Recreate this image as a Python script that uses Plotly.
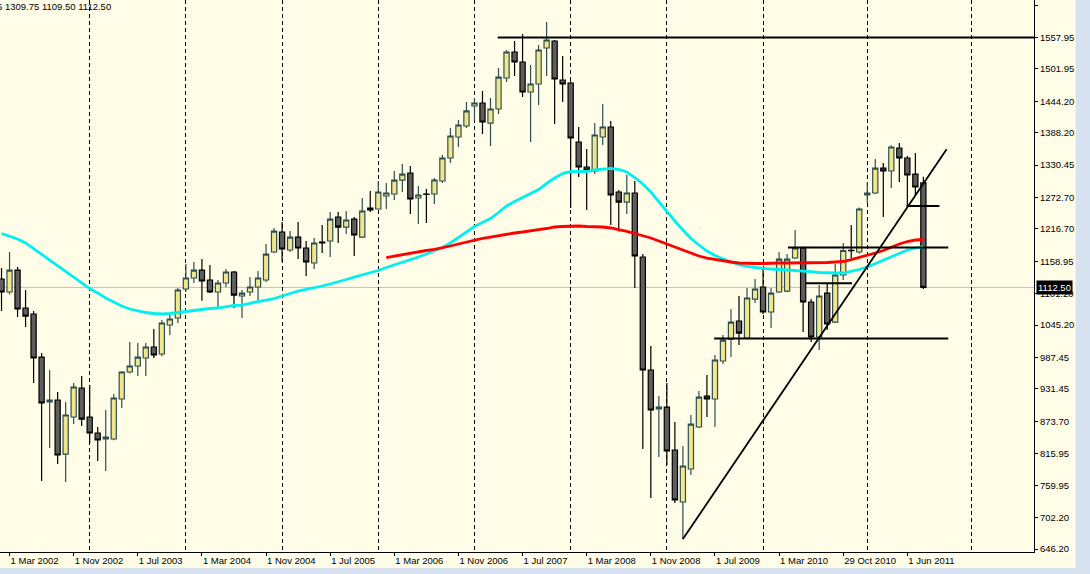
import plotly.graph_objects as go

# ---------------- data (monthly bars, index 0 = Feb 2002) ----------------
opens = [1127.5, 1104.3, 1143.5, 1075.8, 1065.1, 988.4, 908.3, 911.8, 815.5, 881.5,
         933.2, 881.5, 853.0, 842.3, 842.3, 913.6, 961.7, 972.4, 986.7, 1006.3,
         993.8, 1045.5, 1058.0, 1109.7, 1129.3, 1143.5, 1125.7, 1104.3, 1120.4, 1140.0,
         1097.2, 1104.3, 1113.2, 1125.7, 1175.6, 1211.3, 1179.2, 1202.3, 1182.8, 1156.0,
         1193.4, 1195.2, 1238.0, 1220.1, 1234.4, 1202.3, 1254.0, 1252.3, 1275.4, 1279.0,
         1303.9, 1316.4, 1271.9, 1279.0, 1279.0, 1302.2, 1343.2, 1380.6, 1400.2, 1435.9,
         1441.2, 1405.5, 1430.5, 1485.8, 1532.1, 1514.3, 1460.8, 1475.1, 1539.2, 1551.7,
         1482.2, 1476.9, 1371.7, 1327.1, 1320.0, 1380.6, 1398.4, 1282.6, 1264.7, 1280.8,
         1166.7, 965.3, 895.8, 899.3, 822.7, 730.0, 788.8, 863.7, 918.9, 913.6,
         981.3, 1020.5, 1052.6, 1022.3, 1091.8, 1113.2, 1068.7, 1104.3, 1106.0, 1164.9,
         1182.8, 1086.5, 1024.1, 1102.5, 1050.8, 1134.6, 1178.6, 1175.6, 1277.2, 1280.8,
         1325.3, 1320.0, 1361.0, 1343.2, 1314.6, 1298.75]
highs = [1147.1, 1175.6, 1148.9, 1107.9, 1070.4, 995.6, 965.3, 926.1, 908.3, 942.1,
         954.6, 938.5, 863.7, 894.0, 922.5, 963.0, 1015.2, 1013.4, 1013.4, 1038.4,
         1054.4, 1063.3, 1111.4, 1154.2, 1157.8, 1163.1, 1152.4, 1125.7, 1145.3, 1141.7,
         1107.9, 1131.1, 1141.7, 1189.9, 1218.4, 1229.1, 1213.0, 1229.1, 1195.2, 1200.6,
         1223.7, 1246.9, 1246.9, 1248.7, 1238.0, 1271.9, 1284.3, 1302.2, 1298.6, 1320.0,
         1332.5, 1328.9, 1293.3, 1287.9, 1307.5, 1348.5, 1396.6, 1410.9, 1443.0, 1450.1,
         1462.6, 1450.1, 1503.6, 1535.7, 1551.7, 1564.2, 1509.0, 1544.6, 1585.6, 1553.5,
         1525.0, 1480.0, 1398.4, 1359.2, 1405.5, 1439.4, 1409.1, 1286.1, 1312.9, 1302.2,
         1172.0, 1008.1, 918.9, 942.1, 872.6, 829.8, 885.1, 927.9, 956.4, 992.0,
         1027.7, 1074.0, 1097.2, 1111.4, 1127.5, 1147.1, 1111.4, 1175.6, 1172.0, 1214.8,
         1185.0, 1092.0, 1116.7, 1120.4, 1154.2, 1191.7, 1223.7, 1255.0, 1300.4, 1341.4,
         1334.3, 1366.0, 1370.0, 1346.7, 1352.1, 1309.75]
lows = [1070.4, 1100.0, 1059.7, 1041.9, 942.1, 767.4, 826.2, 797.7, 765.6, 869.0,
        865.5, 835.2, 803.1, 785.3, 840.0, 897.5, 959.0, 954.6, 954.6, 986.7,
        990.0, 1027.7, 1049.1, 1104.3, 1120.4, 1088.9, 1102.5, 1074.0, 1113.2, 1075.8,
        1058.0, 1097.2, 1086.5, 1122.0, 1173.8, 1157.8, 1175.6, 1163.1, 1132.8, 1145.3,
        1173.8, 1166.7, 1191.7, 1207.7, 1168.5, 1200.6, 1247.0, 1252.3, 1252.3, 1268.3,
        1282.6, 1243.3, 1225.5, 1227.3, 1261.2, 1298.6, 1334.3, 1362.8, 1396.6, 1409.1,
        1385.9, 1364.6, 1421.6, 1478.6, 1489.3, 1451.9, 1371.7, 1437.7, 1489.3, 1403.8,
        1443.0, 1254.0, 1309.3, 1250.5, 1314.6, 1366.3, 1223.7, 1212.0, 1243.3, 1111.4,
        824.4, 737.1, 810.2, 795.9, 728.2, 664.0, 778.1, 861.9, 881.5, 863.7,
        976.0, 988.4, 1009.8, 1020.0, 1084.7, 1065.0, 1040.1, 1102.5, 1104.0, 1163.0,
        1033.0, 1015.0, 1000.9, 1036.6, 1049.1, 1125.7, 1164.9, 1173.0, 1263.0, 1279.0,
        1238.0, 1289.7, 1300.4, 1257.6, 1275.4, 1109.50]
closes = [1104.3, 1143.5, 1074.0, 1061.5, 986.7, 906.5, 911.8, 813.8, 885.1, 935.0,
          877.9, 853.0, 840.5, 845.8, 915.4, 961.7, 972.4, 988.4, 1006.3, 992.0,
          1049.1, 1056.2, 1107.9, 1129.3, 1143.5, 1123.9, 1104.3, 1120.4, 1140.0, 1098.9,
          1102.5, 1113.2, 1129.3, 1172.0, 1213.0, 1181.0, 1202.3, 1182.8, 1157.8, 1191.7,
          1191.7, 1234.4, 1220.1, 1232.7, 1205.9, 1248.7, 1250.5, 1282.6, 1280.8, 1303.9,
          1314.6, 1270.1, 1277.2, 1278.1, 1304.0, 1343.2, 1382.4, 1402.0, 1427.0, 1441.2,
          1407.3, 1430.5, 1487.5, 1532.1, 1514.3, 1460.8, 1475.1, 1535.7, 1553.5, 1484.0,
          1475.1, 1378.8, 1327.1, 1321.8, 1384.2, 1398.4, 1277.2, 1264.7, 1280.8, 1168.5,
          965.3, 894.0, 899.3, 820.9, 733.6, 794.2, 869.0, 917.1, 913.6, 983.1,
          1018.7, 1050.8, 1031.2, 1093.6, 1109.7, 1068.7, 1102.5, 1163.1, 1163.1, 1182.8,
          1086.5, 1024.1, 1097.2, 1047.3, 1134.6, 1178.3, 1178.0, 1252.3, 1280.8, 1325.3,
          1320.0, 1362.8, 1343.2, 1312.9, 1291.5, 1112.50]

ma_cyan = [1208.6, 1204.1, 1198.8, 1191.7, 1181.8, 1172.0, 1161.3, 1151.5, 1141.7, 1131.0,
           1120.4, 1110.5, 1102.5, 1093.6, 1086.5, 1079.4, 1074.0, 1070.4, 1067.8, 1066.0,
           1065.1, 1066.0, 1067.8, 1069.6, 1072.2, 1074.4, 1074.9, 1075.8, 1078.5, 1080.3,
           1081.1, 1084.7, 1087.4, 1090.0, 1092.7, 1097.2, 1101.6, 1106.1, 1108.8, 1111.4,
           1115.0, 1118.6, 1122.1, 1126.6, 1131.0, 1134.6, 1138.2, 1142.6, 1148.0, 1152.4,
           1156.9, 1161.3, 1166.7, 1172.0, 1177.4, 1183.6, 1191.7, 1201.5, 1211.3, 1221.1,
           1228.2, 1235.3, 1246.0, 1257.6, 1265.6, 1272.8, 1279.9, 1287.0, 1297.7, 1307.5,
           1315.5, 1319.1, 1319.1, 1319.1, 1321.8, 1323.6, 1324.5, 1322.7, 1318.2, 1308.4,
           1296.8, 1282.6, 1264.7, 1248.7, 1230.9, 1214.8, 1199.7, 1188.1, 1177.4, 1169.4,
           1163.1, 1157.8, 1153.3, 1149.8, 1148.0, 1146.2, 1145.3, 1144.4, 1143.5, 1143.5,
           1142.6, 1140.8, 1139.1, 1138.2, 1138.2, 1138.2, 1140.8, 1144.4, 1148.9, 1155.1,
           1161.3, 1167.6, 1173.8, 1179.2, 1182.7, 1185.4]
ma_red_start = 48
ma_red = [1165.8, 1168.5, 1171.2, 1173.8, 1176.5, 1178.3, 1180.1, 1182.7, 1186.3, 1189.9,
          1193.4, 1197.0, 1199.7, 1202.3, 1205.0, 1207.7, 1209.5, 1211.3, 1213.9, 1215.7,
          1217.5, 1220.2, 1221.1, 1222.0, 1222.0, 1221.1, 1221.1, 1220.2, 1218.4, 1215.7,
          1212.2, 1208.6, 1205.0, 1200.6, 1195.2, 1189.9, 1183.6, 1178.3, 1172.9, 1168.5,
          1164.9, 1162.2, 1159.6, 1157.8, 1156.0, 1155.1, 1155.1, 1155.1, 1156.0, 1156.0,
          1156.0, 1156.0, 1156.0, 1156.0, 1156.0, 1156.9, 1157.8, 1158.7, 1162.2, 1165.8,
          1169.4, 1173.8, 1178.3, 1184.5, 1189.9, 1194.3, 1197.0, 1197.9]

# drawn horizontal levels: price, first bar, last bar
level_prices = [1557.95, 1183.6, 1119.8, 1021.4, 1257.6]
level_from = [61.9, 98.1, 100.3, 88.9, 112.9]
level_to = [131.0, 118.1, 106.1, 118.1, 117.0]
# drawn trend line (bar, price) endpoints
trend_bars = [85.0, 117.9]
trend_prices = [664.0, 1358.7]

tick_bars = [1, 9, 17, 25, 33, 41, 49, 57, 65, 73, 81, 89, 97, 105, 113]
tick_labels = ["1 Mar 2002", "1 Nov 2002", "1 Jul 2003", "1 Mar 2004", "1 Nov 2004",
               "1 Jul 2005", "1 Mar 2006", "1 Nov 2006", "1 Jul 2007", "1 Mar 2008",
               "1 Nov 2008", "1 Jul 2009", "1 Mar 2010", "29 Oct 2010", "1 Jun 2011"]
year_start_bars = [11, 23, 35, 47, 59, 71, 83, 95, 108, 121]
price_ticks = [1615.70, 1557.95, 1501.95, 1444.20, 1388.20, 1330.45, 1272.70, 1216.70,
               1158.95, 1101.20, 1045.20, 987.45, 931.45, 873.70, 815.95, 759.95,
               702.20, 646.20]
header_text = "1298.75 1309.75 1109.50 1112.50"

# ---------------- figure ----------------
BG = "#FFFCE8"
FONT = "Liberation Sans, Arial, sans-serif"
bars = list(range(len(opens)))

fig = go.Figure()

fig.add_trace(go.Scatter(x=bars, y=ma_cyan, mode="lines",
                         line=dict(color="#00F0F0", width=2.8),
                         hoverinfo="skip", showlegend=False))
fig.add_trace(go.Scatter(x=bars[ma_red_start:], y=ma_red, mode="lines",
                         line=dict(color="#FF0000", width=2.8),
                         hoverinfo="skip", showlegend=False))

fig.add_trace(go.Candlestick(
    x=bars, open=opens, high=highs, low=lows, close=closes,
    increasing=dict(fillcolor="#F0E68C", line=dict(color="#2F4F4F", width=1.2)),
    decreasing=dict(fillcolor="#5E5E5E", line=dict(color="#000000", width=1.2)),
    whiskerwidth=0, hoverinfo="skip", showlegend=False))

for p, a, b in zip(level_prices, level_from, level_to):
    fig.add_trace(go.Scatter(x=[a, b], y=[p, p], mode="lines",
                             line=dict(color="#000000", width=2),
                             hoverinfo="skip", showlegend=False))
fig.add_trace(go.Scatter(x=trend_bars, y=trend_prices, mode="lines",
                         line=dict(color="#000000", width=1.8),
                         hoverinfo="skip", showlegend=False))

# current price line
fig.add_shape(type="line", xref="paper", x0=0, x1=1, yref="y",
              y0=closes[-1], y1=closes[-1],
              line=dict(color="#C0C0C0", width=1), layer="below")

# window border strips (outside plot)
fig.add_shape(type="rect", xref="paper", yref="paper", x0=1.0403, x1=1.0542,
              y0=-0.05, y1=1.0, fillcolor="#D6E2EF", line=dict(width=0))
fig.add_shape(type="rect", xref="paper", yref="paper", x0=-0.01, x1=1.06,
              y0=-0.0399, y1=-0.0290, fillcolor="#D6E2EF", line=dict(width=0))

fig.add_annotation(xref="paper", yref="y", x=1.0, y=closes[-1], xanchor="left",
                   yanchor="middle", text="%.2f" % closes[-1], showarrow=False,
                   bgcolor="#000000", font=dict(color="#FFFFFF", size=9.5, family=FONT),
                   borderpad=1, xshift=2)
fig.add_annotation(xref="paper", yref="paper", x=113 / 1034, y=1.0, xanchor="right",
                   yanchor="top", text=header_text, showarrow=False,
                   font=dict(color="#000000", size=9.5, family=FONT), yshift=1)

fig.update_layout(
    width=1090, height=574,
    margin=dict(l=0, r=56, t=0, b=22),
    paper_bgcolor=BG, plot_bgcolor=BG,
    showlegend=False,
    boxgap=0.28, boxgroupgap=0.1,
    font=dict(family=FONT, size=9.5, color="#000000"),
    xaxis=dict(range=[-0.19, 128.8], tickmode="array", tickvals=tick_bars,
               ticktext=tick_labels, ticks="outside", ticklen=3, tickcolor="#000000",
               ticklabelposition="outside right", showline=True, linecolor="#000000",
               linewidth=1, showgrid=False, zeroline=False, rangeslider=dict(visible=False),
               minor=dict(tickmode="array", tickvals=year_start_bars, showgrid=True,
                          griddash="4px,3px", gridcolor="#000000", gridwidth=1, ticks=""),
               fixedrange=True),
    yaxis=dict(side="right", range=[640.9, 1624.8], tickmode="array",
               tickvals=price_ticks, ticktext=["%.2f" % v for v in price_ticks],
               ticks="outside", ticklen=3, tickcolor="#000000", showline=True,
               linecolor="#000000", linewidth=1, showgrid=False, zeroline=False,
               fixedrange=True),
)

fig.write_html("out.html", config={"displayModeBar": False},
               post_script="document.body.style.margin='0';")
